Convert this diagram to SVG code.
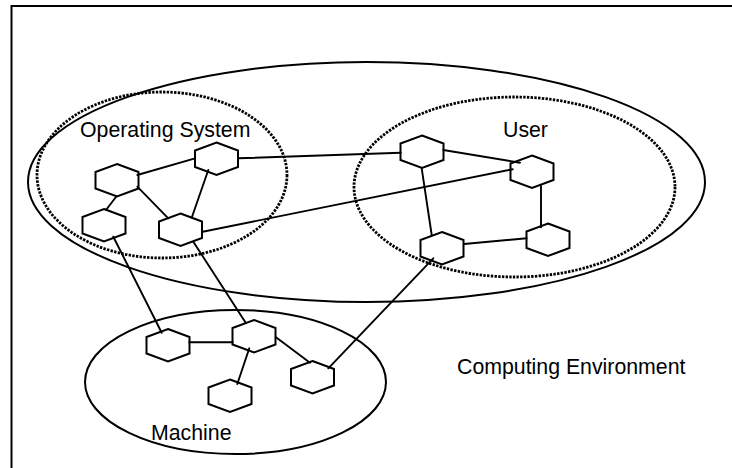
<svg xmlns="http://www.w3.org/2000/svg" xmlns:xlink="http://www.w3.org/1999/xlink" width="732" height="468" viewBox="0 0 732 468">
  <style>
    .frame { fill: none; stroke: #000; stroke-width: 2; }
    .region { fill: none; stroke: #000; stroke-width: 2; }
    .layer { fill: none; stroke: #000; stroke-width: 2.8; stroke-dasharray: 2.4 1.3; }
    .label { font-family: "Liberation Sans", Arial, sans-serif; font-size: 21.3px; fill: #000; }
    .hex { fill: #fff; stroke: #000; stroke-width: 2; stroke-linejoin: miter; }
    .link { stroke: #000; stroke-width: 1.9; fill: none; stroke-linecap: round; }
  </style>
  <defs>
    <!-- hexagon centred on the origin, pointed top and bottom -->
    <polygon id="hex-shape" class="hex" points="0,-16 21.5,-8 21.5,8.5 0,16.5 -21.5,8.5 -21.5,-8"/>
  </defs>

  <rect width="732" height="468" fill="#fff"/>

  <!-- open frame: top and left edges only -->
  <path class="frame" d="M11.5,468 V6 H732"/>

  <!-- regions -->
  <g id="computing-environment">
    <ellipse class="region" cx="366.5" cy="182" rx="338.5" ry="120"/>
    <text class="label" x="457" y="374">Computing Environment</text>
  </g>
  <g id="operating-system">
    <ellipse class="layer" cx="162" cy="175" rx="125" ry="83"/>
    <text class="label" x="80" y="137">Operating System</text>
  </g>
  <g id="user">
    <ellipse class="layer" cx="514.5" cy="187" rx="160.5" ry="90"/>
    <text class="label" x="503" y="137">User</text>
  </g>
  <g id="machine">
    <ellipse class="region" cx="235.5" cy="382" rx="150.5" ry="72"/>
    <text class="label" x="151" y="440">Machine</text>
  </g>

  <!-- nodes -->
  <g id="os-a"><use xlink:href="#hex-shape" href="#hex-shape" x="117" y="180"/></g>
  <g id="os-b"><use xlink:href="#hex-shape" href="#hex-shape" x="216.5" y="158.5"/></g>
  <g id="os-c"><use xlink:href="#hex-shape" href="#hex-shape" x="104" y="225"/></g>
  <g id="os-d"><use xlink:href="#hex-shape" href="#hex-shape" x="180.5" y="229.5"/></g>
  <g id="user-e"><use xlink:href="#hex-shape" href="#hex-shape" x="422" y="151.5"/></g>
  <g id="user-f"><use xlink:href="#hex-shape" href="#hex-shape" x="532" y="171.5"/></g>
  <g id="user-g"><use xlink:href="#hex-shape" href="#hex-shape" x="442" y="248"/></g>
  <g id="user-h"><use xlink:href="#hex-shape" href="#hex-shape" x="548" y="239.5"/></g>
  <g id="machine-i"><use xlink:href="#hex-shape" href="#hex-shape" x="168" y="345"/></g>
  <g id="machine-j"><use xlink:href="#hex-shape" href="#hex-shape" x="254" y="336"/></g>
  <g id="machine-k"><use xlink:href="#hex-shape" href="#hex-shape" x="230" y="395.5"/></g>
  <g id="machine-l"><use xlink:href="#hex-shape" href="#hex-shape" x="312.5" y="377"/></g>

  <!-- connectors -->
  <g id="connectors">
    <line class="link" x1="137.3" y1="175" x2="195" y2="158.3"/>
    <line class="link" x1="116.7" y1="196" x2="106" y2="210"/>
    <line class="link" x1="137.3" y1="186.7" x2="168.3" y2="218.3"/>
    <line class="link" x1="208.3" y1="170" x2="191.7" y2="217.7"/>
    <line class="link" x1="238.3" y1="158.3" x2="400.7" y2="152.7"/>
    <line class="link" x1="202.7" y1="231.7" x2="512.7" y2="169.3"/>
    <line class="link" x1="113.3" y1="236.7" x2="161.7" y2="332.7"/>
    <line class="link" x1="193.3" y1="241.7" x2="245.7" y2="322.7"/>
    <line class="link" x1="443.3" y1="150" x2="520" y2="162.7"/>
    <line class="link" x1="421.7" y1="168.3" x2="431.7" y2="235"/>
    <line class="link" x1="541" y1="186" x2="541" y2="227.3"/>
    <line class="link" x1="464" y1="244" x2="526.7" y2="238.3"/>
    <line class="link" x1="433.3" y1="258.3" x2="328.3" y2="368.3"/>
    <line class="link" x1="189.3" y1="342.3" x2="232.7" y2="342.3"/>
    <line class="link" x1="276" y1="337.3" x2="310" y2="362.7"/>
    <line class="link" x1="249.3" y1="348.3" x2="237.3" y2="384"/>
  </g>
</svg>
